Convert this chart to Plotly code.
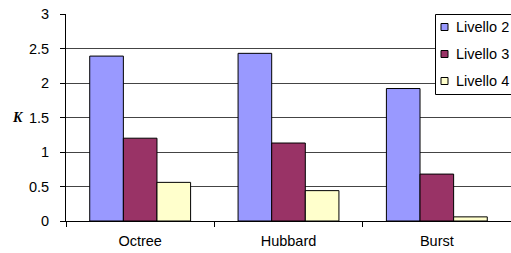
import plotly.graph_objects as go

categories = ["Octree", "Hubbard", "Burst"]
series_names = ["Livello 2", "Livello 3", "Livello 4"]
livello2 = [2.39, 2.43, 1.92]
livello3 = [1.20, 1.13, 0.68]
livello4 = [0.56, 0.44, 0.06]
colors = ["#9999FF", "#993366", "#FFFFCC"]
y_ticks = [0, 0.5, 1, 1.5, 2, 2.5, 3]

W, H = 511, 253
ML, MR, MT, MB = 66, 0, 14, 32
PW, PH = W - ML - MR, H - MT - MB

def px_x(p):
    return (p - ML) / PW

def px_y(p):
    return (H - MB - p) / PH

FONT = "Liberation Sans, Arial, sans-serif"

fig = go.Figure()
for name, vals, col in zip(series_names, [livello2, livello3, livello4], colors):
    fig.add_trace(go.Bar(
        x=categories, y=vals, name=name,
        marker=dict(color=col, line=dict(color="#000000", width=1)),
        showlegend=False,
    ))

shapes = [dict(
    type="rect", xref="paper", yref="paper",
    x0=px_x(435.5), x1=1.2, y0=px_y(94.5), y1=px_y(14.5),
    fillcolor="white", line=dict(color="black", width=1), layer="above",
)]
annotations = []
legend_rows = [27, 54, 81]
for name, col, row in zip(series_names, colors, legend_rows):
    shapes.append(dict(
        type="rect", xref="paper", yref="paper",
        xsizemode="pixel", ysizemode="pixel",
        xanchor=px_x(444.5), yanchor=px_y(row),
        x0=-3.5, x1=3.5, y0=-3.5, y1=3.5,
        fillcolor=col, line=dict(color="black", width=1), layer="above",
    ))
    annotations.append(dict(
        xref="paper", yref="paper", x=px_x(454), y=px_y(row),
        xanchor="left", yanchor="middle", showarrow=False,
        text=name, font=dict(family=FONT, size=14.5, color="black"),
    ))

annotations.append(dict(
    xref="paper", yref="paper", x=px_x(17.5), y=px_y(117),
    xanchor="center", yanchor="middle", showarrow=False,
    text="<b><i>K</i></b>",
    font=dict(family="Liberation Serif, Times New Roman, serif", size=14, color="black"),
))

fig.update_layout(
    width=W, height=H,
    margin=dict(l=ML, r=MR, t=MT, b=MB, pad=0, autoexpand=False),
    paper_bgcolor="white", plot_bgcolor="white",
    barmode="group", bargap=0.32, bargroupgap=0,
    font=dict(family=FONT, size=14.5, color="black"),
    shapes=shapes, annotations=annotations,
    showlegend=False,
)
fig.update_xaxes(
    showline=True, linecolor="black", linewidth=1,
    ticks="outside", tickson="boundaries", ticklen=5, tickcolor="black",
    showgrid=False, ticklabelstandoff=7,
)
fig.update_yaxes(
    range=[0, 3], tickvals=y_ticks, ticktext=[f"{v:g}" for v in y_ticks],
    showline=True, linecolor="black", linewidth=1,
    ticks="outside", ticklen=5, tickcolor="black", ticklabelstandoff=8,
    showgrid=True, gridcolor="#444444", gridwidth=1, zeroline=False,
)

fig.write_html(
    "out.html",
    config={"displayModeBar": False},
    post_script="document.body.style.margin='0';document.body.style.overflow='hidden';",
)
